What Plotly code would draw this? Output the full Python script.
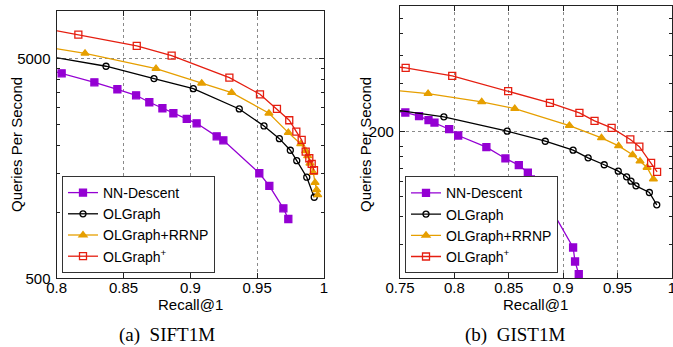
import plotly.graph_objects as go
import math

# ---------------- data: SIFT1M (left) ----------------
sift_nnd_recall = [0.79, 0.8037, 0.8282, 0.8454, 0.8594, 0.8693, 0.8791, 0.8873, 0.8973, 0.9047, 0.9197, 0.9247, 0.9516, 0.9591, 0.9696, 0.9733]
sift_nnd_qps = [4500, 4273, 3889, 3615, 3394, 3155, 2963, 2812, 2650, 2532, 2209, 2119, 1501, 1314, 1040, 930]

sift_olg_recall = [0.79, 0.8369, 0.8728, 0.9022, 0.9366, 0.9551, 0.9666, 0.9748, 0.9796, 0.9871, 0.9927]
sift_olg_qps = [5150, 4600, 4041, 3639, 2942, 2462, 2156, 1910, 1712, 1440, 1168]

sift_rrnp_recall = [0.79, 0.8212, 0.8743, 0.9085, 0.9309, 0.9588, 0.9733, 0.9826, 0.9863, 0.9878, 0.9895, 0.9920, 0.9933, 0.9945, 0.9953]
sift_rrnp_qps = [5650, 5268, 4486, 3850, 3490, 2813, 2296, 2040, 1896, 1799, 1667, 1510, 1360, 1261, 1196]

sift_plus_recall = [0.79, 0.8162, 0.8599, 0.8860, 0.9292, 0.9521, 0.9648, 0.9740, 0.9793, 0.9833, 0.9863, 0.9890, 0.9908, 0.9925]
sift_plus_qps = [6850, 6404, 5690, 5141, 4084, 3430, 2942, 2614, 2320, 2127, 1882, 1756, 1655, 1549]

# ---------------- data: GIST1M (right) ----------------
gist_nnd_recall = [0.74, 0.7549, 0.7675, 0.7762, 0.7817, 0.7952, 0.8035, 0.8294, 0.8469, 0.8592, 0.8675, 0.8703, 0.8786, 0.8832, 0.9091, 0.9109, 0.9143]
gist_nnd_qps = [252, 247.4, 237.6, 227.3, 221.5, 205.9, 192.1, 169.0, 149.3, 138.7, 127.9, 118.5, 102.7, 96.5, 56.1, 48.1, 41.9]

gist_olg_recall = [0.74, 0.7903, 0.8485, 0.8835, 0.9091, 0.9229, 0.9377, 0.9506, 0.9583, 0.9623, 0.9669, 0.9792, 0.9860]
gist_olg_qps = [257, 235.9, 201.5, 180.4, 163.5, 150.3, 139.3, 129.8, 122.0, 116.3, 110.5, 102.7, 89.7]

gist_rrnp_recall = [0.74, 0.7758, 0.8251, 0.8555, 0.9057, 0.9352, 0.9509, 0.9638, 0.9706, 0.9771, 0.9829]
gist_rrnp_qps = [317, 304.7, 278.1, 258.4, 214.4, 187.2, 171.5, 155.4, 144.9, 135.2, 118.9]

gist_plus_recall = [0.74, 0.7552, 0.7980, 0.8494, 0.8878, 0.9149, 0.9288, 0.9445, 0.9617, 0.9700, 0.9808, 0.9863]
gist_plus_qps = [412, 404, 370, 313, 275, 246.5, 225.7, 209, 184, 170, 142.3, 128.9]

series_names = ["NN-Descent", "OLGraph", "OLGraph+RRNP", "OLGraph<sup>+</sup>"]
series_colors = ["#9400d3", "#000000", "#e69f00", "#e51e10"]
series_symbols = ["square", "circle-open", "triangle-up", "square-open"]
series_sizes = [7, 6, 7, 7]

left_x_ticks = [0.8, 0.85, 0.9, 0.95, 1.0]
left_x_labels = ["0.8", "0.85", "0.9", "0.95", "1"]
right_x_ticks = [0.75, 0.8, 0.85, 0.9, 0.95, 1.0]
right_x_labels = ["0.75", "0.8", "0.85", "0.9", "0.95", "1"]
left_y_ticks = [500, 5000]
right_y_ticks = [200]
left_y_minor = [1000, 1500, 2000, 2500, 3000, 3500, 4000, 4500]
right_y_minor = [58, 79, 98, 116, 134, 152, 170, 249, 340, 464, 589, 695]

W, H = 673, 347
FONT = "Liberation Sans, Arial, Helvetica, sans-serif"
SERIF = "Liberation Serif, Times New Roman, serif"

fig = go.Figure()

left = [(sift_nnd_recall, sift_nnd_qps), (sift_olg_recall, sift_olg_qps),
        (sift_rrnp_recall, sift_rrnp_qps), (sift_plus_recall, sift_plus_qps)]
right = [(gist_nnd_recall, gist_nnd_qps), (gist_olg_recall, gist_olg_qps),
         (gist_rrnp_recall, gist_rrnp_qps), (gist_plus_recall, gist_plus_qps)]

for i, (xs, ys) in enumerate(left):
    fig.add_trace(go.Scatter(
        x=xs, y=ys, mode="lines+markers", name=series_names[i],
        xaxis="x", yaxis="y", legend="legend",
        line=dict(color=series_colors[i], width=1.3),
        marker=dict(symbol=series_symbols[i], size=series_sizes[i], color=series_colors[i],
                    line=dict(color=series_colors[i], width=1.3)),
    ))
for i, (xs, ys) in enumerate(right):
    fig.add_trace(go.Scatter(
        x=xs, y=ys, mode="lines+markers", name=series_names[i],
        xaxis="x2", yaxis="y2", legend="legend2",
        line=dict(color=series_colors[i], width=1.3),
        marker=dict(symbol=series_symbols[i], size=series_sizes[i], color=series_colors[i],
                    line=dict(color=series_colors[i], width=1.3)),
    ))

def px_x(p):
    return p / W

def px_y(p):
    return 1 - p / H

axis_common = dict(
    automargin=False,
    showline=True, linecolor="#222", linewidth=1.3, mirror="allticks",
    ticks="inside", ticklen=5, tickwidth=1, tickcolor="#222",
    showgrid=True, gridcolor="#8a8a8a", griddash="dot", gridwidth=1,
    zeroline=False, tickfont=dict(family=FONT, size=15, color="black"),
    ticklabeloverflow="allow",
)

legend_common = dict(
    xanchor="left", yanchor="bottom",
    bgcolor="white", bordercolor="#333", borderwidth=1,
    font=dict(family=FONT, size=14, color="black"),
    tracegroupgap=0,
)

fig.update_layout(
    width=W, height=H,
    margin=dict(l=0, r=0, t=0, b=0, autoexpand=False),
    paper_bgcolor="white", plot_bgcolor="white",
    showlegend=True,
    xaxis=dict(domain=[px_x(56.7), px_x(324)], range=[0.8, 1.0],
               tickmode="array", tickvals=left_x_ticks, ticktext=left_x_labels,
               anchor="y", ticklabelstandoff=-4, **axis_common),
    yaxis=dict(domain=[px_y(278.3), px_y(11)], type="log",
               range=[math.log10(500), math.log10(8200)],
               tickmode="array", tickvals=left_y_ticks, ticktext=["500", "5000"],
               anchor="x", ticklabelstandoff=2,
               minor=dict(tickmode="array", tickvals=left_y_minor, ticks="inside",
                          ticklen=3, tickcolor="#222", showgrid=False),
               **axis_common),
    xaxis2=dict(domain=[px_x(400), px_x(672)], range=[0.75, 1.0],
                tickmode="array", tickvals=right_x_ticks, ticktext=right_x_labels,
                anchor="y2", ticklabelstandoff=-4, **axis_common),
    yaxis2=dict(domain=[px_y(278.3), px_y(5.7)], type="log",
                range=[math.log10(40), math.log10(800)],
                tickmode="array", tickvals=right_y_ticks, ticktext=["200"],
                anchor="x2", ticklabelstandoff=2,
                minor=dict(tickmode="array", tickvals=right_y_minor, ticks="inside",
                           ticklen=3, tickcolor="#222", showgrid=False),
                **axis_common),
    legend=dict(x=px_x(62), y=px_y(273), **legend_common),
    legend2=dict(x=px_x(405), y=px_y(273.3), **legend_common),
)

annos = [
    dict(text="Queries Per Second", x=px_x(16), y=px_y(145), textangle=-90,
         font=dict(family=FONT, size=15, color="black")),
    dict(text="Queries Per Second", x=px_x(365), y=px_y(145), textangle=-90,
         font=dict(family=FONT, size=15, color="black")),
    dict(text="Recall@1", x=px_x(190), y=px_y(304),
         font=dict(family=FONT, size=15, color="black")),
    dict(text="Recall@1", x=px_x(535), y=px_y(304),
         font=dict(family=FONT, size=15, color="black")),
    dict(text="(a)\u00a0\u00a0SIFT1M", x=px_x(167), y=px_y(335),
         font=dict(family=SERIF, size=19, color="black")),
    dict(text="(b)\u00a0\u00a0GIST1M", x=px_x(515), y=px_y(335),
         font=dict(family=SERIF, size=19, color="black")),
]
for a in annos:
    fig.add_annotation(xref="paper", yref="paper", showarrow=False,
                       xanchor="center", yanchor="middle", **a)

fig.write_html("out.html",
               config={"displayModeBar": False, "staticPlot": False},
               post_script="document.body.style.margin='0';document.body.style.overflow='hidden';")
